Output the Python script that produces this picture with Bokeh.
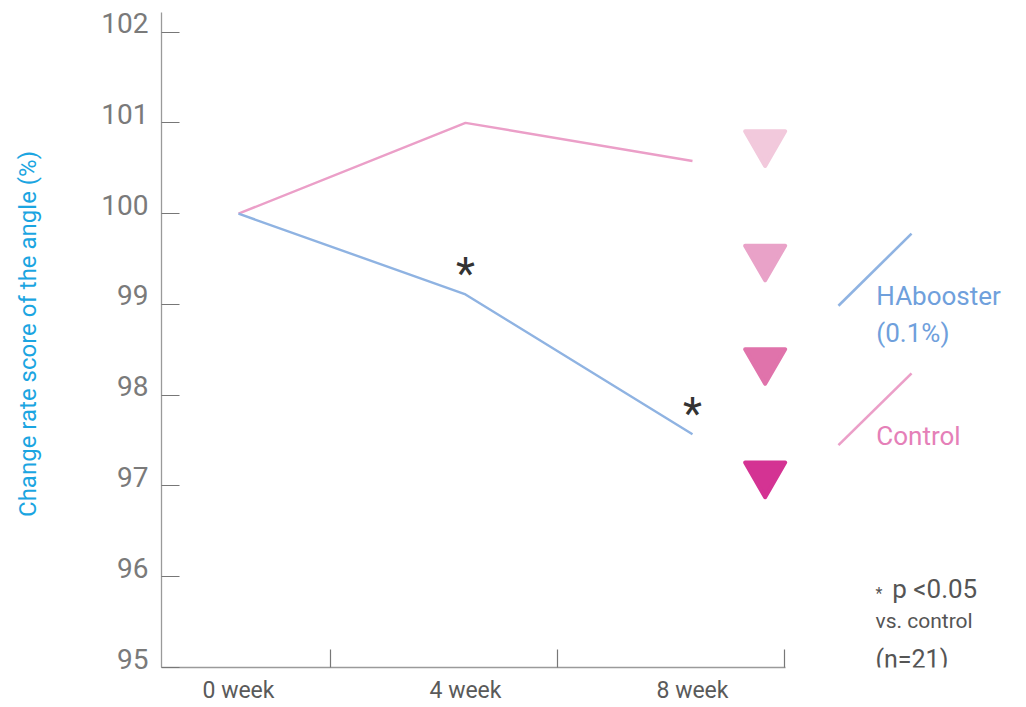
from bokeh.plotting import figure
from bokeh.models import Range1d, FixedTicker, Label
from bokeh.core.properties import value
from bokeh.embed import file_html
from bokeh.resources import INLINE

# ---- data ----
weeks = ["0 week", "4 week", "8 week"]
week_pos = [0, 1, 2]
habooster = [100.0, 99.11, 97.57]
control = [100.0, 101.0, 100.58]
y_ticks = [95, 96, 97, 98, 99, 100, 101, 102]
sig_pos = [1, 2]
sig_vals = [99.11, 97.57]
scale_y = [100.78, 99.52, 98.38, 97.13]
scale_colors = ["#f2c9dc", "#e9a2c8", "#e073ab", "#d43393"]

FONT = "Roboto"
GREY = "#7a7a7a"
BLUE_LINE = "#8fb3e2"
PINK_LINE = "#eb9fc8"
BLUE_TXT = "#6fa0dc"
PINK_TXT = "#e580b8"
NOTE = "#555555"

p = figure(width=1024, height=707,
           x_range=Range1d(-0.3392, 3.4626), y_range=Range1d(95, 102.348),
           output_backend="svg", toolbar_location=None,
           min_border_left=161, min_border_right=0, min_border_top=0, min_border_bottom=40)
p.outline_line_color = None
p.xgrid.visible = False
p.ygrid.visible = False
p.background_fill_color = "white"
p.border_fill_color = "white"

# x axis: labels at the weeks, tick marks as minor ticks
xa = p.xaxis[0]
xa.ticker = FixedTicker(ticks=week_pos, minor_ticks=[0.407, 1.407, 2.407])
xa.major_label_overrides = {k: v for k, v in zip(week_pos, weeks)}
xa.major_tick_in = 0
xa.major_tick_out = 0
xa.minor_tick_in = 18
xa.minor_tick_out = 0
xa.minor_tick_line_color = "#777777"
xa.minor_tick_line_width = 1.2
xa.axis_line_color = "#9a9a9a"
xa.axis_line_width = 1.3
xa.bounds = (-0.3392, 2.41)
xa.major_label_text_font = FONT
xa.major_label_text_font_size = "23px"
xa.major_label_text_color = "#5a5a5a"
xa.major_label_standoff = 9

# y axis: tick marks at the values (minor ticks), labels sitting just above them
label_shift = 0.099
ya = p.yaxis[0]
ya.ticker = FixedTicker(ticks=[t + label_shift for t in y_ticks], minor_ticks=y_ticks)
ya.major_label_overrides = {t + label_shift: str(t) for t in y_ticks}
ya.major_tick_in = 0
ya.major_tick_out = 0
ya.minor_tick_in = 18
ya.minor_tick_out = 0
ya.minor_tick_line_color = "#777777"
ya.minor_tick_line_width = 1.2
ya.axis_line_color = "#9a9a9a"
ya.axis_line_width = 1.3
ya.bounds = (95, 102.216)
ya.major_label_text_font = FONT
ya.major_label_text_font_size = "28px"
ya.major_label_text_color = GREY
ya.major_label_standoff = 13
ya.axis_label = "Change rate score of the angle (%)"
ya.axis_label_text_font = FONT
ya.axis_label_text_font_size = "24px"
ya.axis_label_text_font_style = "normal"
ya.axis_label_text_color = "#1ba5e1"
ya.axis_label_standoff = 56

# data lines
p.line(week_pos, control, line_color=PINK_LINE, line_width=2.4)
p.line(week_pos, habooster, line_color=BLUE_LINE, line_width=2.4)

# significance stars
p.text(sig_pos, sig_vals, text=["*"] * len(sig_pos), text_font=value(FONT),
       text_font_size="44px", text_color="#333333", text_align="center",
       text_baseline="middle", y_offset=-20)

# intensity triangles
p.scatter([2.32] * len(scale_y), scale_y, marker="inverted_triangle", size=40,
          fill_color=scale_colors, line_color=scale_colors, line_width=4,
          line_join="round")

# custom legend
p.segment(x0=[2.643, 2.643], y0=[98.985, 97.45], x1=[2.965, 2.965], y1=[99.78, 98.24],
          line_color=[BLUE_LINE, PINK_LINE], line_width=2.6)
p.text([2.81, 2.81], [99.09, 98.68], text=["HAbooster", "(0.1%)"], text_font=value(FONT),
       text_font_size="26px", text_color=BLUE_TXT, text_baseline="middle")
p.text([2.81], [97.545], text=["Control"], text_font=value(FONT),
       text_font_size="26px", text_color=PINK_TXT, text_baseline="middle")

# notes
notes = [
    ("*", 2.806, 95.81, "16px"),
    ("p <0.05", 2.88, 95.865, "26px"),
    ("vs. control", 2.806, 95.507, "21px"),
    ("(n=21)", 2.806, 95.09, "25px"),
]
for txt, nx, ny, fs in notes:
    p.add_layout(Label(x=nx, y=ny, text=txt, text_font=FONT, text_font_size=fs,
                       text_color=NOTE, text_baseline="middle", text_align="left"))

open("out.html", "w").write(file_html(p, INLINE))
